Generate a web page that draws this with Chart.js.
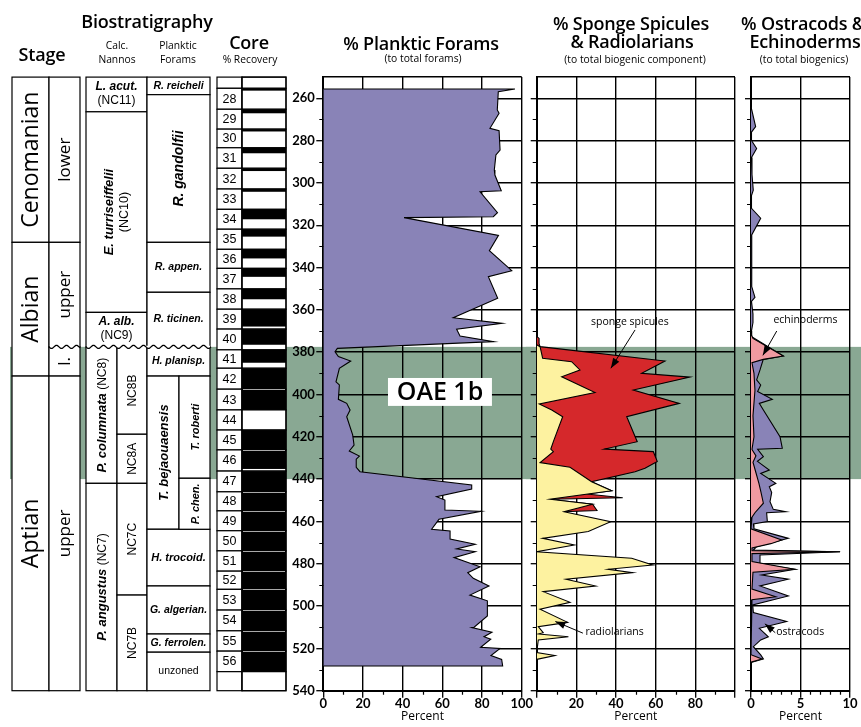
<!DOCTYPE html>
<html>
<head>
<meta charset="utf-8">
<script src="https://cdn.jsdelivr.net/npm/chart.js@4.4.1/dist/chart.umd.min.js"></script>
<style>
  html, body { margin:0; padding:0; background:#fff; }
  #wrap { position:relative; width:861px; height:727px; overflow:hidden; background:#fff; }
  canvas { position:absolute; top:0; }
  .h { position:absolute; transform:translate(-50%,-50%); white-space:nowrap; color:#000; font-family:'Open Sans',sans-serif; line-height:1; }
  .big { font-size:18px; font-weight:600; letter-spacing:-0.2px; }
  .small { font-size:10.3px; font-weight:400; }
</style>
</head>
<body>
<div id="wrap">
  <canvas id="c1" width="534" height="727" style="left:0px;width:534px;height:727px"></canvas>
  <canvas id="c2" width="216" height="727" style="left:526px;width:216px;height:727px"></canvas>
  <canvas id="c3" width="119" height="727" style="left:742px;width:119px;height:727px"></canvas>

  <div class="h big" style="left:147px;top:21px">Biostratigraphy</div>
  <div class="h big" style="left:42px;top:54px">Stage</div>
  <div class="h small" style="left:117px;top:45px">Calc.</div>
  <div class="h small" style="left:117px;top:59px">Nannos</div>
  <div class="h small" style="left:178px;top:45px">Planktic</div>
  <div class="h small" style="left:178px;top:59px">Forams</div>
  <div class="h big" style="left:249px;top:42px">Core</div>
  <div class="h small" style="left:250px;top:59px">% Recovery</div>
  <div class="h big" style="left:421px;top:43px">% Planktic Forams</div>
  <div class="h small" style="left:423px;top:58px">(to total forams)</div>
  <div class="h big" style="left:631px;top:23px">% Sponge Spicules</div>
  <div class="h big" style="left:632px;top:41px">&amp; Radiolarians</div>
  <div class="h small" style="left:635px;top:59px">(to total biogenic component)</div>
  <div class="h big" style="left:803px;top:23px">% Ostracods &amp;</div>
  <div class="h big" style="left:805px;top:41px">Echinoderms</div>
  <div class="h small" style="left:804px;top:59px">(to total biogenics)</div>
</div>
<script>
// ---------------- DATA ----------------
const depthMin = 250, depthMax = 540;
const oaeTop = 377.5, oaeBase = 440;
const oaeLabel = 'OAE 1b';

// % planktic forams (to total forams)
const foramsDepth = [255.6,255.6,256.9,265.5,267.1,274.2,275.3,284.5,286.8,293.9,
  296.3,303.7,304.2,314.1,316.0,316.4,324.8,332.0,341.5,344.3,
  354.5,363.7,366.4,369.2,372.4,375.0,378.2,379.8,382.1,384.2,
  387.6,394.0,395.5,402.3,404.2,407.3,410.5,419.1,423.9,426.7,
  429.1,430.6,434.4,436.5,442.8,444.7,448.3,449.9,454.6,455.2,
  459.0,463.7,464.5,468.3,470.8,473.0,474.3,477.1,481.4,484.2,
  486.9,490.5,494.8,497.5,504.7,510.0,510.2,512.4,514.5,515.7,
  519.5,520.0,523.4,525.2,528.3,528.3];
const foramsPct = [0,96.6,88.2,87.7,88.6,84.0,88.6,89.1,87.0,86.2,
  86.5,89.7,79.0,87.8,85.7,40.7,88.3,83.7,95.0,83.2,
  87.9,65.5,90.2,67.2,68.9,85.8,7.1,5.9,7.6,13.8,
  8.1,6.4,8.1,7.6,11.8,13.5,11.8,14.8,15.5,13.1,
  18.2,16.6,16.6,18.5,74.8,74.8,57.1,61.3,61.3,79.5,
  58.3,54.6,63.9,63.9,76.6,67.2,76.6,65.9,79.0,72.8,
  75.6,83.5,73.9,82.7,82.7,76.0,74.8,85.0,81.0,84.4,
  79.3,89.1,84.5,89.9,90.4,0];

// radiolarians (inner, yellow)
const radioDepth = [376.5,377.4,382.9,384.5,388.4,391.6,399.1,404.5,407.3,410.5,
  422.3,425.8,427.0,432.2,434.4,441.2,445.5,449.5,451.9,455.4,
  460.1,464.8,468.0,471.1,474.3,477.4,480.6,482.6,484.2,487.3,
  490.5,493.2,498.2,501.5,507.7,509.7,512.6,513.2,514.5,516.0,
  522.0,523.4,525.2];
const radioPct = [0,1.7,3.0,17.6,21.8,12.6,29.4,1.3,7.6,13.1,
  8.4,7.1,8.4,1.7,16.8,27.7,37.8,6.7,28.2,13.8,
  37.3,26.0,3.0,19.0,0,47.9,58.5,36.1,48.4,14.8,
  29.7,3.3,16.8,1.7,15.6,0.8,3.3,0.8,16.0,0.8,
  0,9.2,0];
// radiolarians + sponge spicules (outer, red)
const spongeDepth = [372.5,373.5,376.0,377.4,384.2,390.0,391.8,397.9,404.2,410.5,
  422.3,425.8,427.0,431.7,434.9,436.5,441.2,445.5,447.0,448.8,
  449.5,451.9,454.8,455.4];
const spongePct = [0,1.2,1.2,1.7,64.7,52.9,77.3,48.7,71.9,45.4,
  50.7,34.1,58.8,60.8,54.6,49.6,27.7,37.8,25.2,43.4,
  6.7,28.2,30.4,13.8];

// echinoderms (inner, pink)
const echinoDepth = [371.5,373.5,381.8,383.4,385.0,390.0,398.0,410.0,420.0,426.0,
  429.0,432.0,437.0,442.0,446.0,451.4,455.9,458.0,462.0,463.5,
  468.8,470.5,472.5,473.8,474.3,475.2,479.0,482.6,484.0,492.0,
  495.6,497.0,500.0,523.0,525.0,526.5];
const echinoPct = [0,0.2,3.26,1.24,0.1,0.3,0.4,0.2,0.3,0.1,
  0.5,0.2,0.5,0.8,1.0,1.25,0.4,0.1,0,0,
  3.1,2.0,0.1,0.1,9.0,0.1,0.1,4.4,0.2,0.1,
  2.5,0.1,0,0,1.1,0];
// ostracods + echinoderms (outer, purple)
const ostraDepth = [264.0,273.4,276.0,280.0,283.7,288.0,296.0,303.4,306.0,312.0,
  316.7,324.6,340.0,349.0,354.1,356.0,362.0,366.0,370.0,372.7,
  381.8,383.4,388.4,393.1,395.5,398.6,402.3,404.2,407.3,419.9,
  425.4,425.9,429.4,431.6,435.7,437.3,442.0,443.6,446.4,450.7,
  454.3,455.4,455.9,460.1,461.2,463.5,468.0,471.9,473.5,474.3,
  475.9,480.1,482.6,485.3,487.3,490.5,495.2,499.5,503.1,507.3,
  510.5,514.5,516.0,519.2,523.1,525.0,526.6];
const ostraPct = [0,0.47,0.05,0.05,0.57,0.05,0.1,0.23,0.05,0.05,
  0.98,0.07,0.05,0.1,0.4,0.05,0.2,0.2,0.05,0.07,
  3.26,1.24,0.91,0.57,0.98,0.67,2.15,0.84,1.25,2.93,
  3.16,0.67,1.25,0.65,1.85,0.98,2.51,1.85,2.09,1.92,
  2.25,3.5,1.58,1.65,0.24,0.3,3.77,0.57,0.24,9.0,
  0.91,0.91,4.44,1.08,3.77,0.91,3.77,0.17,0.24,3.6,
  0.84,1.75,0.98,0.24,0.98,1.25,0];

// stratigraphy
const stageNames = ['Cenomanian','Albian','Aptian'];
const stageTops  = [250, 328.1, 391.3];
const stageBases = [328.1, 391.3, 540];
const substageNames = ['lower','upper','l.','upper'];
const substageTops  = [250, 328.1, 377.5, 391.3];
const substageBases = [328.1, 377.5, 391.3, 540];
const nannoNames = ['L. acut.','E. turriseiffelii','A. alb.','P. columnata','P. angustus'];
const nannoCodes = ['(NC11)','(NC10)','(NC9)','(NC8)','(NC7)'];
const nannoTops  = [250, 266.4, 361.2, 377.5, 442];
const nannoBases = [266.4, 361.2, 377.5, 442, 540];
const nannoSubNames = ['NC8B','NC8A','NC7C','NC7B'];
const nannoSubTops  = [377.5, 418.8, 442, 494.8];
const nannoSubBases = [418.8, 442, 494.8, 540];
const plankNames = ['R. reicheli','R. gandolfii','R. appen.','R. ticinen.','H. planisp.','T. bejaouaensis','H. trocoid.','G. algerian.','G. ferrolen.','unzoned'];
const plankTops  = [250, 258.3, 328.1, 351.7, 377.5, 391.3, 463.7, 490.5, 513.2, 521.8];
const plankBases = [258.3, 328.1, 351.7, 377.5, 391.3, 463.7, 490.5, 513.2, 521.8, 540];
const plankSubNames = ['T. roberti','P. chen.'];
const plankSubTops  = [391.3, 439.6];
const plankSubBases = [439.6, 463.7];
const unconformityDepth = 377.5;

// cores
const coreNumbers = [28,29,30,31,32,33,34,35,36,37,38,39,40,41,42,43,44,45,46,47,48,49,50,51,52,53,54,55,56];
const coreTops = [255.3,265.2,274.6,283.4,293.1,302.9,312.5,321.9,331.4,340.4,
  350.1,359.7,369.1,378.9,387.6,397.5,407.3,416.8,426.2,436.2,
  446.0,455.0,464.4,473.9,483.5,492.1,501.9,511.7,521.3];
const coreLastBase = 531.0;
const coreRecovered = [1.1,1.9,1.1,2.6,1.3,1.3,4.7,3.5,4.3,4.0,
  4.9,8.2,7.4,6.1,10,10,0,9.4,9.0,10,
  10,10,10,10,10,10,10,10,10];

// annotations  [text, textValue, textDepth, arrowFromValue, arrowFromDepth, arrowToValue, arrowToDepth, align]
const spongeNotes = [
  ['sponge spicules', 47, 365.7, 49.6, 369.5, 37.4, 387.6, 'center'],
  ['radiolarians', 24.6, 512.4, 23.3, 512.8, 9.4, 507.3, 'left']
];
const ostraNotes = [
  ['echinoderms', 5.5, 364.9, 2.6, 370.0, 1.2, 381.5, 'center'],
  ['ostracods', 2.55, 512.4, 2.45, 512.6, 1.4, 508.4, 'left']
];

// ---------------- STYLE ----------------
const PURPLE = '#8983b7', GREEN = '#89a893', RED = '#d5282b', YELLOW = '#fdf2a0', PINK = '#f09aa1';
const BI = s => `italic 700 ${s}px "Liberation Sans"`;
const RG = s => `400 ${s}px "Liberation Sans"`;
const OS = (w, s) => `${w} ${s}px "Open Sans"`;
const TICKFONT = { family: 'Lato', size: 13, weight: '700' };

function alignPx(p, w) { return Math.round(p) + ((Math.round(w) % 2) ? 0.5 : 0); }

const bandPlugin = {
  id: 'band',
  beforeDraw(chart, args, opts) {
    const ys = chart.scales.y, ctx = chart.ctx;
    const a = ys.getPixelForValue(oaeTop), b = ys.getPixelForValue(oaeBase);
    ctx.save(); ctx.fillStyle = GREEN;
    const x0 = opts.x0 || 0;
    ctx.fillRect(x0, a, chart.width - x0, b - a);
    ctx.restore();
  }
};

const minorTickPlugin = {
  id: 'minorTicks',
  afterDraw(chart, args, opts) {
    const ctx = chart.ctx, xs = chart.scales.x, ys = chart.scales.y;
    ctx.save(); ctx.strokeStyle = '#000'; ctx.lineWidth = 1.2;
    ctx.beginPath();
    xs.ticks.forEach(t => {
      if (!opts.xMajor(t.value)) {
        const p = alignPx(xs.getPixelForValue(t.value), 1);
        ctx.moveTo(p, xs.top); ctx.lineTo(p, xs.top + 4);
      }
    });
    ys.ticks.forEach(t => {
      if (t.value % 20 !== 0 && t.value > ys.min && t.value < ys.max) {
        const p = alignPx(ys.getPixelForValue(t.value), 1);
        ctx.moveTo(ys.right - 4, p); ctx.lineTo(ys.right, p);
      }
    });
    ctx.stroke(); ctx.restore();
  }
};

function arrow(ctx, x0, y0, x1, y1) {
  ctx.beginPath(); ctx.moveTo(x0, y0); ctx.lineTo(x1, y1); ctx.stroke();
  const ang = Math.atan2(y1 - y0, x1 - x0), L = 10, W = 3.6;
  ctx.beginPath();
  ctx.moveTo(x1, y1);
  ctx.lineTo(x1 - L * Math.cos(ang) + W * Math.sin(ang), y1 - L * Math.sin(ang) - W * Math.cos(ang));
  ctx.lineTo(x1 - L * Math.cos(ang) - W * Math.sin(ang), y1 - L * Math.sin(ang) + W * Math.cos(ang));
  ctx.closePath(); ctx.fill();
}

const notesPlugin = {
  id: 'notes',
  afterDatasetsDraw(chart, args, opts) {
    if (!opts.notes) return;
    const ctx = chart.ctx, xs = chart.scales.x, ys = chart.scales.y;
    ctx.save();
    ctx.fillStyle = '#000'; ctx.strokeStyle = '#000'; ctx.lineWidth = 1;
    opts.notes.forEach(n => {
      ctx.font = OS(400, 10.5);
      ctx.textAlign = n[7]; ctx.textBaseline = 'middle';
      ctx.fillText(n[0], xs.getPixelForValue(n[1]), ys.getPixelForValue(n[2]));
      arrow(ctx, xs.getPixelForValue(n[3]), ys.getPixelForValue(n[4]), xs.getPixelForValue(n[5]), ys.getPixelForValue(n[6]));
    });
    ctx.restore();
  }
};

const oaePlugin = {
  id: 'oae',
  afterDatasetsDraw(chart) {
    const ctx = chart.ctx, xs = chart.scales.x, ys = chart.scales.y;
    const x0 = xs.getPixelForValue(32.6), x1 = xs.getPixelForValue(85);
    const y0 = ys.getPixelForValue(392.2), y1 = ys.getPixelForValue(405.4);
    ctx.save();
    ctx.fillStyle = '#fff'; ctx.fillRect(x0, y0, x1 - x0, y1 - y0);
    ctx.fillStyle = '#000'; ctx.font = OS(600, 25); ctx.textAlign = 'center'; ctx.textBaseline = 'middle';
    ctx.fillText(oaeLabel, (x0 + x1) / 2, (y0 + y1) / 2 + 1);
    ctx.restore();
  }
};

// column geometry (pixels)
const COL = { stage: [12, 49], sub: [49, 80], nanno: [86, 147], nannoSplit: 117, plank: [147, 210], plankSplit: 179, core: [217, 242, 286] };

const stratPlugin = {
  id: 'strat',
  afterDraw(chart) {
    const ctx = chart.ctx, ys = chart.scales.y;
    const Y = d => ys.getPixelForValue(d);
    ctx.save();
    ctx.strokeStyle = '#000'; ctx.lineWidth = 1.2;
    const box = (x0, x1, d0, d1) => {
      const a = Y(d0), b = Y(d1);
      ctx.fillStyle = '#fff'; ctx.fillRect(x0, a, x1 - x0, b - a);
      ctx.strokeRect(x0, a, x1 - x0, b - a);
    };
    const label = (lines, cx, cy, rot, gap) => {
      ctx.save(); ctx.translate(cx, cy); if (rot) ctx.rotate(-Math.PI / 2);
      ctx.fillStyle = '#000'; ctx.textBaseline = 'middle'; ctx.textAlign = 'left';
      const n = lines.length;
      lines.forEach((parts, li) => {
        let tot = 0;
        parts.forEach(p => { ctx.font = p[1]; p.w = ctx.measureText(p[0]).width; tot += p.w; });
        let x = -tot / 2; const yy = (li - (n - 1) / 2) * (gap || 13);
        parts.forEach(p => { ctx.font = p[1]; ctx.fillText(p[0], x, yy); x += p.w; });
      });
      ctx.restore();
    };
    const midY = (a, b) => (Y(a) + Y(b)) / 2;

    // stage
    stageNames.forEach((s, i) => {
      box(COL.stage[0], COL.stage[1], stageTops[i], stageBases[i]);
      label([[[s, OS(400, 23)]]], (COL.stage[0] + COL.stage[1]) / 2 + 1, midY(stageTops[i], stageBases[i]), true);
    });
    substageNames.forEach((s, i) => {
      box(COL.sub[0], COL.sub[1], substageTops[i], substageBases[i]);
      label([[[s, OS(400, 17)]]], (COL.sub[0] + COL.sub[1]) / 2 + 1, midY(substageTops[i], substageBases[i]), true);
    });

    // nannos
    const nannoRot = [false, true, false, true, true];
    const nannoHalf = [false, false, false, true, true];
    nannoNames.forEach((s, i) => {
      const x1 = nannoHalf[i] ? COL.nannoSplit : COL.nanno[1];
      box(COL.nanno[0], x1, nannoTops[i], nannoBases[i]);
      const cx = (COL.nanno[0] + x1) / 2, cy = midY(nannoTops[i], nannoBases[i]);
      if (nannoHalf[i]) label([[[s, BI(13)], [' ' + nannoCodes[i], RG(12)]]], cx + 1, cy, true);
      else if (nannoRot[i]) label([[[s, BI(13)]], [[nannoCodes[i], RG(12.5)]]], cx + 0.5, cy, true, 16);
      else label([[[s, BI(12)]], [[nannoCodes[i], RG(12)]]], cx, cy - 1, false, 13.5);
    });
    nannoSubNames.forEach((s, i) => {
      box(COL.nannoSplit, COL.nanno[1], nannoSubTops[i], nannoSubBases[i]);
      label([[[s, RG(12)]]], (COL.nannoSplit + COL.nanno[1]) / 2 + 1, midY(nannoSubTops[i], nannoSubBases[i]), true);
    });

    // planktic forams
    const plankRot = [false, true, false, false, false, true, false, false, false, false];
    const plankHalf = [false, false, false, false, false, true, false, false, false, false];
    const plankSize = [10.5, 14, 10.5, 10.5, 10.5, 13, 11, 10.5, 10.5, 10.5];
    plankNames.forEach((s, i) => {
      const x1 = plankHalf[i] ? COL.plankSplit : COL.plank[1];
      box(COL.plank[0], x1, plankTops[i], plankBases[i]);
      const font = s === 'unzoned' ? RG(plankSize[i]) : BI(plankSize[i]);
      label([[[s, font]]], (COL.plank[0] + x1) / 2 + (plankRot[i] ? 1 : 0), midY(plankTops[i], plankBases[i]), plankRot[i]);
    });
    plankSubNames.forEach((s, i) => {
      box(COL.plankSplit, COL.plank[1], plankSubTops[i], plankSubBases[i]);
      label([[[s, BI(11)]]], (COL.plankSplit + COL.plank[1]) / 2 + 1, midY(plankSubTops[i], plankSubBases[i]), true);
    });

    // unconformity (wavy)
    const yu = Y(unconformityDepth);
    [[COL.sub[0], COL.sub[1]], [COL.nanno[0], COL.plank[1] + 1]].forEach(([x0, x1]) => {
      ctx.save();
      ctx.strokeStyle = '#fff'; ctx.lineWidth = 2.4;
      ctx.beginPath(); ctx.moveTo(x0 + 0.8, yu); ctx.lineTo(x1 - 0.8, yu); ctx.stroke();
      ctx.strokeStyle = '#000'; ctx.lineWidth = 1.3;
      ctx.beginPath();
      for (let x = x0; x <= x1; x += 0.5) {
        const yy = yu + 1.5 * Math.sin((x - x0) / 10 * 2 * Math.PI);
        if (x === x0) ctx.moveTo(x, yy); else ctx.lineTo(x, yy);
      }
      ctx.stroke(); ctx.restore();
    });

    // cores
    const c = COL.core;
    box(c[0], c[1], depthMin, coreTops[0]);
    box(c[1], c[2], depthMin, coreTops[0]);
    coreNumbers.forEach((n, i) => {
      const top = coreTops[i], base = i < coreTops.length - 1 ? coreTops[i + 1] : coreLastBase;
      box(c[0], c[1], top, base);
      box(c[1], c[2], top, base);
      ctx.fillStyle = '#000'; ctx.font = RG(12.5); ctx.textAlign = 'center'; ctx.textBaseline = 'middle';
      ctx.fillText(String(n), (c[0] + c[1]) / 2, midY(top, base) + 0.5);
    });
    box(c[0], c[1], coreLastBase, depthMax);
    box(c[1], c[2], coreLastBase, depthMax);
    coreNumbers.forEach((n, i) => {
      const top = coreTops[i], base = i < coreTops.length - 1 ? coreTops[i + 1] : coreLastBase;
      const r = Math.min(top + coreRecovered[i], base);
      if (coreRecovered[i] > 0) {
        ctx.fillStyle = '#000';
        ctx.fillRect(c[1], Y(top), c[2] - c[1], Y(r) - Y(top));
      }
    });
    // light separators between consecutive recovered cores
    ctx.strokeStyle = '#a8a8a8'; ctx.lineWidth = 1;
    coreNumbers.forEach((n, i) => {
      if (i === 0) return;
      const prevFull = coreTops[i - 1] + coreRecovered[i - 1] >= coreTops[i];
      if (prevFull && coreRecovered[i] > 0) {
        const p = alignPx(Y(coreTops[i]), 1);
        ctx.beginPath(); ctx.moveTo(c[1] + 1, p); ctx.lineTo(c[2] - 1, p); ctx.stroke();
      }
    });
    ctx.strokeStyle = '#000'; ctx.lineWidth = 1.2;
    ctx.strokeRect(c[1], Y(depthMin), c[2] - c[1], Y(depthMax) - Y(depthMin));
    ctx.restore();
  }
};

function series(depths, vals) { return depths.map((d, i) => ({ x: vals[i], y: d })); }

function makePanel(canvasId, cfg) {
  const xMajor = v => Math.abs(v % cfg.major) < 1e-9;
  return new Chart(document.getElementById(canvasId), {
    type: 'line',
    data: {
      datasets: cfg.datasets.map(ds => ({
        data: ds.data, borderColor: '#000', borderWidth: 1.1, backgroundColor: ds.color,
        fill: 'origin', pointRadius: 0, pointHoverRadius: 0, tension: 0
      }))
    },
    options: {
      indexAxis: 'y', animation: false, responsive: false, devicePixelRatio: 1,
      events: [],
      layout: { padding: { left: cfg.padLeft, right: cfg.padRight, top: 77.1, bottom: 0 } },
      plugins: {
        legend: { display: false }, tooltip: { enabled: false },
        band: { x0: cfg.bandX0 || 0 },
        minorTicks: { xMajor },
        notes: { notes: cfg.notes }
      },
      scales: {
        x: {
          type: 'linear', position: 'bottom', min: cfg.xMin, max: cfg.xMax,
          afterFit: s => { s.height = 36.3; },
          afterBuildTicks: s => {
            const t = []; for (let v = cfg.xMin; v <= cfg.xMax + 1e-9; v += cfg.step) t.push({ value: Math.round(v * 1000) / 1000 });
            s.ticks = t;
          },
          ticks: {
            autoSkip: false, maxRotation: 0, minRotation: 0, padding: -2, color: '#000', font: TICKFONT,
            callback: v => (xMajor(v) && cfg.showX(v)) ? String(v) : ''
          },
          grid: {
            color: c => (c.tick && xMajor(c.tick.value) && c.tick.value > cfg.xMin) ? '#000' : 'rgba(0,0,0,0)',
            lineWidth: 1.4, tickLength: 7, tickWidth: 1.3,
            tickColor: c => (c.tick && xMajor(c.tick.value)) ? '#000' : 'rgba(0,0,0,0)'
          },
          border: { color: '#000', width: 2 },
          title: { display: true, text: 'Percent', color: '#000', font: { family: 'Open Sans', size: 12, weight: '400' }, padding: { top: 0, bottom: 3.5 } }
        },
        y: {
          type: 'linear', position: 'left', reverse: true, min: depthMin, max: depthMax,
          afterFit: s => { s.width = cfg.yWidth; },
          afterBuildTicks: s => {
            const t = []; for (let v = depthMin; v <= depthMax; v += 10) t.push({ value: v });
            s.ticks = t;
          },
          ticks: {
            autoSkip: false, padding: 1.5, color: '#000', font: TICKFONT,
            callback: v => (cfg.showY && v % 20 === 0) ? String(v) : ''
          },
          grid: {
            color: c => (c.tick && (c.tick.value % 20 === 0 || c.tick.value === depthMin)) ? '#000' : 'rgba(0,0,0,0)',
            lineWidth: 1.4, tickLength: cfg.yTick, tickWidth: 1.3,
            tickColor: c => (c.tick && c.tick.value % 20 === 0 && c.tick.value > depthMin) ? '#000' : 'rgba(0,0,0,0)'
          },
          border: { color: '#000', width: 2 }
        }
      }
    },
    plugins: [bandPlugin, minorTickPlugin, notesPlugin].concat(cfg.extraPlugins || [])
  });
}

// Planktic forams (+ stratigraphic columns)
makePanel('c1', {
  xMin: 0, xMax: 100, step: 10, major: 20, showX: v => true,
  padLeft: 283.3, padRight: 12.3, yWidth: 40, yTick: 7, showY: true, bandX0: 10,
  datasets: [{ data: series(foramsDepth, foramsPct), color: PURPLE }],
  extraPlugins: [oaePlugin, stratPlugin]
});
// Sponge spicules & radiolarians
makePanel('c2', {
  xMin: 0, xMax: 100, step: 10, major: 20, showX: v => v > 0 && v < 100,
  padLeft: 2.7, padRight: 7, yWidth: 8, yTick: 6, showY: false,
  datasets: [
    { data: series(radioDepth, radioPct), color: YELLOW },
    { data: series(spongeDepth, spongePct), color: RED }
  ],
  notes: spongeNotes
});
// Ostracods & echinoderms
makePanel('c3', {
  xMin: 0, xMax: 10, step: 1, major: 5, showX: v => true,
  padLeft: 1, padRight: 11, yWidth: 8, yTick: 6, showY: false,
  datasets: [
    { data: series(echinoDepth, echinoPct), color: PINK },
    { data: series(ostraDepth, ostraPct), color: PURPLE }
  ],
  notes: ostraNotes
});
</script>
</body>
</html>
